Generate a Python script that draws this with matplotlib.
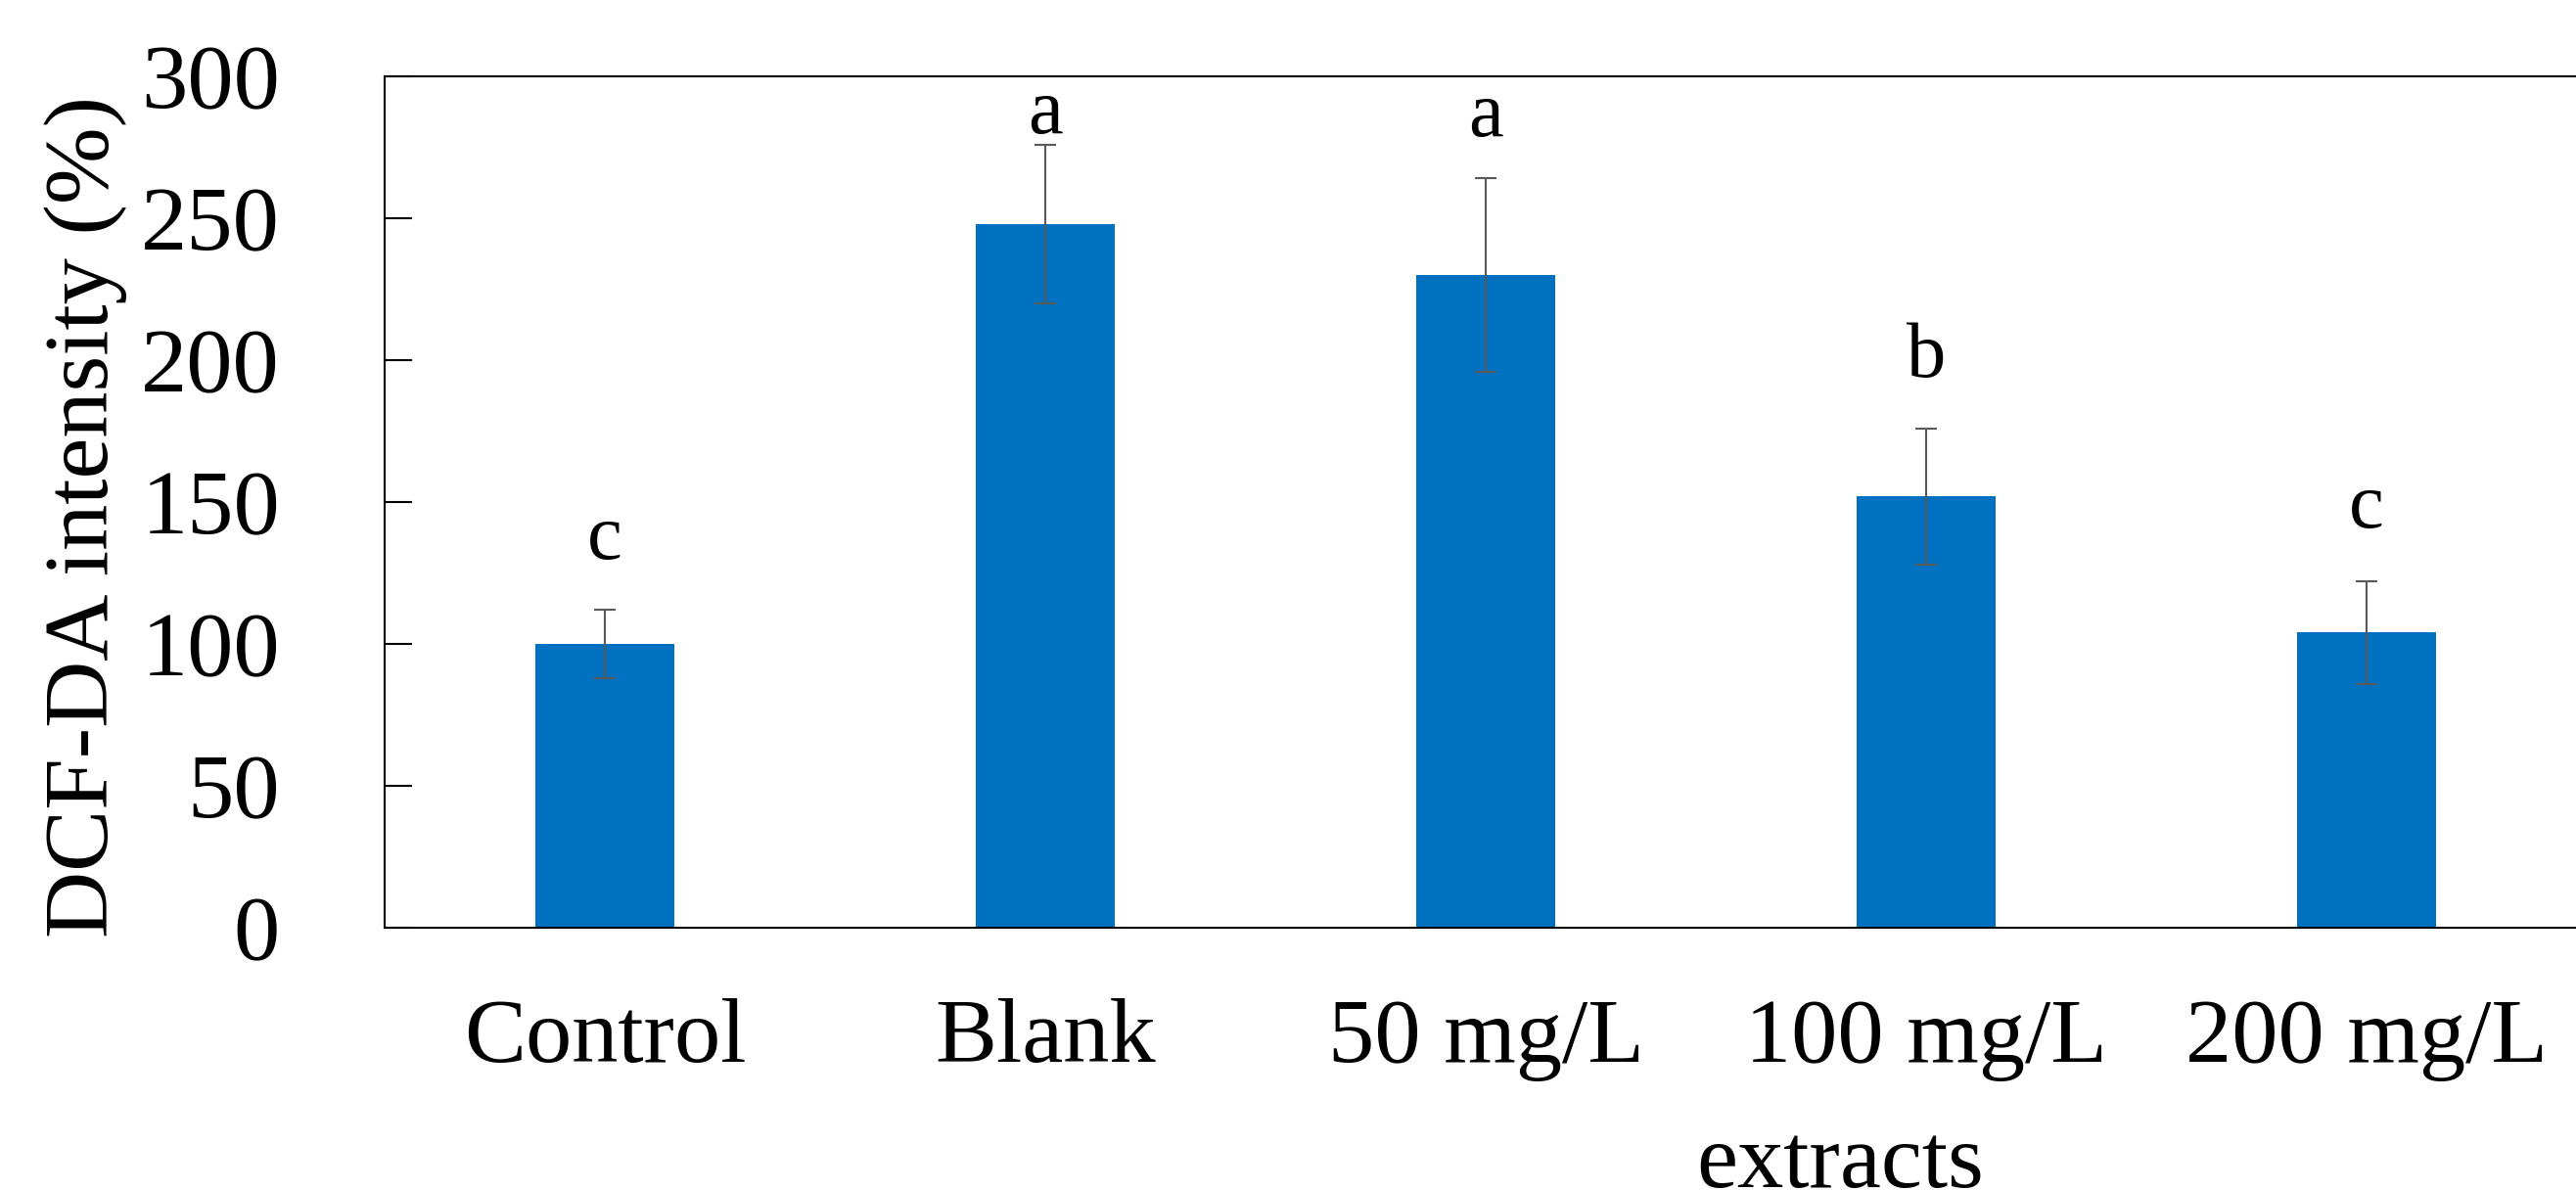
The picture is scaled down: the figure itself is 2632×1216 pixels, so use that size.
import numpy as np
import matplotlib
matplotlib.use('Agg')
import matplotlib.pyplot as plt

plt.rcParams['font.family'] = ['Liberation Serif', 'DejaVu Serif']

groups = ['Control', 'Blank', '50 mg/L', '100 mg/L', '200 mg/L']
intensity = [100, 248, 230, 152, 104]
sd = [12, 28, 34, 24, 18]
letters = ['c', 'a', 'a', 'b', 'c']
# baseline height of the significance letters (data units)
letter_y = [130, 280, 279, 194, 141]

fig = plt.figure(figsize=(26.32, 12.16), dpi=100)
ax = fig.add_axes([0.1493, 0.2204, 0.8549, 0.7155])

x = np.arange(len(groups))
ax.bar(x, intensity, width=0.315, color='#0070C0', zorder=2)
ax.errorbar(x, intensity, yerr=sd, fmt='none', ecolor='#595959',
            elinewidth=1.5, capsize=8, capthick=1.5, zorder=3)

for xi, lab, ly in zip(x, letters, letter_y):
    ax.text(xi, ly, lab, ha='center', va='baseline', fontsize=58)

ax.set_xlim(-0.5, 4.5)
ax.set_ylim(0, 300)
ax.set_yticks(np.arange(0, 301, 50))
ax.set_xticks(x)
ax.set_xticklabels(groups)

ax.tick_params(axis='y', direction='in', length=20, width=1.5,
               labelsize=68, pad=77)
ax.tick_params(axis='x', length=0, labelsize=68, pad=52)

for s in ['left', 'bottom', 'top']:
    ax.spines[s].set_linewidth(1.5)
ax.spines['right'].set_visible(False)

ax.set_ylabel('DCF-DA intensity (%)', fontsize=68)
ax.yaxis.set_label_coords(-0.117, 0.483)
ax.set_xlabel('extracts', fontsize=68)
ax.xaxis.set_label_coords(0.661, -0.305)
ax.xaxis.label.set_va('baseline')

fig.savefig('out.png', dpi=100)
